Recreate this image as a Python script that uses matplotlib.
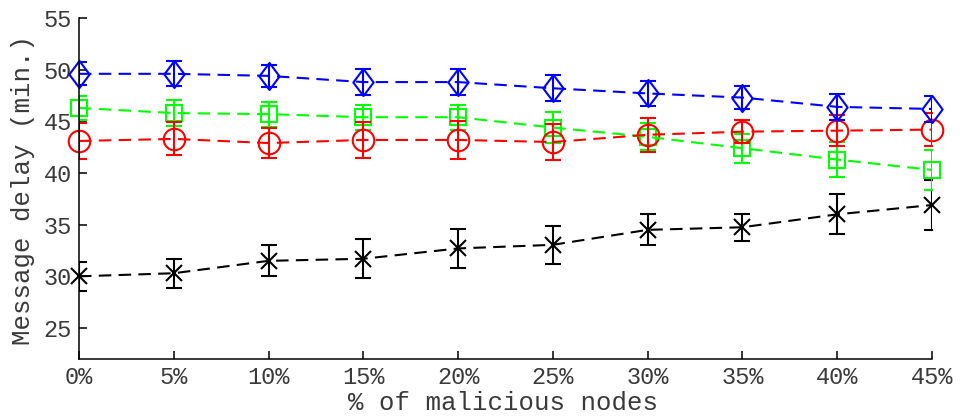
import numpy as np
import matplotlib
matplotlib.use("Agg")
import matplotlib.pyplot as plt
from matplotlib.path import Path

plt.rcParams['font.family'] = ['Liberation Mono', 'DejaVu Sans Mono']

# percentage of malicious nodes
malicious = [0, 5, 10, 15, 20, 25, 30, 35, 40, 45]
tick_labels = ['0%', '5%', '10%', '15%', '20%', '25%', '30%', '35%', '40%', '45%']

# mean message delay (min.) and error for each scheme
blue_mean = [49.6, 49.6, 49.4, 48.8, 48.8, 48.2, 47.7, 47.3, 46.4, 46.2]
blue_err = [1.1, 1.2, 1.1, 1.25, 1.25, 1.25, 1.2, 1.1, 1.25, 1.3]

green_mean = [46.3, 45.8, 45.7, 45.4, 45.4, 44.4, 43.5, 42.4, 41.3, 40.3]
green_err = [1.2, 1.25, 1.2, 1.2, 1.2, 1.5, 1.3, 1.4, 1.7, 1.9]

red_mean = [43.1, 43.3, 42.9, 43.2, 43.2, 43.0, 43.7, 44.0, 44.1, 44.2]
red_err = [1.7, 1.6, 1.45, 1.75, 1.8, 1.75, 1.65, 1.1, 1.5, 1.6]

black_mean = [30.0, 30.3, 31.5, 31.7, 32.7, 33.05, 34.5, 34.75, 36.0, 36.9]
black_err = [1.4, 1.4, 1.5, 1.9, 1.85, 1.85, 1.5, 1.3, 1.95, 2.4]

# matlab-style diamond, taller than wide
diamond = Path([(0, 1), (0.75, 0), (0, -1), (-0.75, 0), (0, 1)],
               [Path.MOVETO, Path.LINETO, Path.LINETO, Path.LINETO, Path.CLOSEPOLY])

series = [
    (black_mean, black_err, 'k', 'x', 12),
    (green_mean, green_err, (0, 1, 0), 's', 12),
    (red_mean, red_err, 'r', 'o', 15.5),
    (blue_mean, blue_err, 'b', diamond, 19.5),
]

text_color = '#3a3a3a'

fig = plt.figure(figsize=(9.6, 4.19), dpi=100)
ax = fig.add_axes([0.0823, 0.1432, 0.8885, 0.8138])

for mean, err, color, marker, ms in series:
    ax.errorbar(malicious, mean, yerr=err, color=color, linestyle=(0, (6, 3.5)),
                linewidth=1.5, elinewidth=1.5, capsize=6, capthick=1.5)
    ax.plot(malicious, mean, linestyle='none', marker=marker, markersize=ms,
            markerfacecolor='none', markeredgecolor=color, markeredgewidth=1.5,
            clip_on=False)

ax.set_xlim(0, 45)
ax.set_ylim(22, 55)
ax.set_xticks(malicious)
ax.set_xticklabels(tick_labels)
ax.set_yticks(np.arange(25, 56, 5))

ax.spines['top'].set_visible(False)
ax.spines['right'].set_visible(False)
for s in ('left', 'bottom'):
    ax.spines[s].set_linewidth(1.1)
ax.tick_params(direction='in', length=6, width=1.1, labelsize=17,
               colors='k', labelcolor=text_color, pad=5)

# axis titles placed in figure coordinates
fig.text(0.524, 0.0215, '% of malicious nodes', fontsize=18.5, color=text_color,
         ha='center', va='baseline')
fig.text(0.024, 0.5465, 'Message delay (min.)', fontsize=18.5, color=text_color,
         rotation=90, rotation_mode='anchor', ha='center', va='center')

fig.savefig('out.png', dpi=100)
